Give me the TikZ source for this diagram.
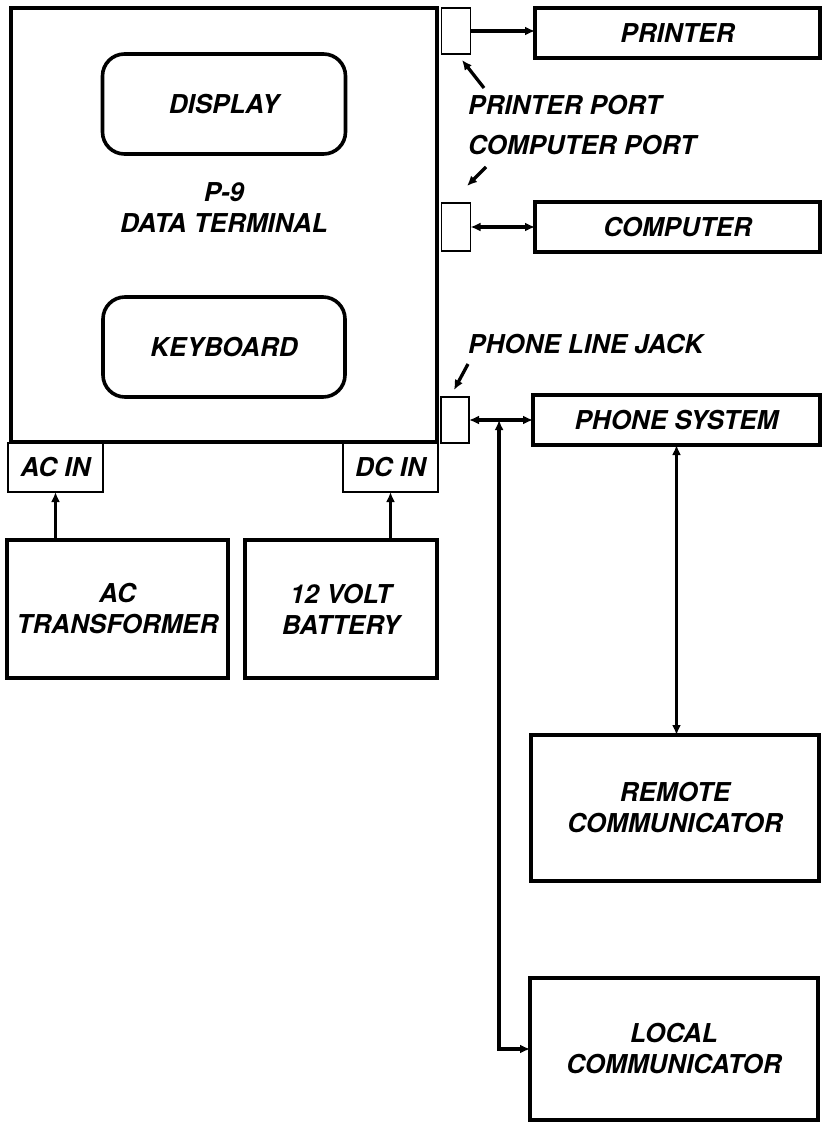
\documentclass[tikz,border=0pt]{standalone}
\usepackage{fontspec}
\setmainfont{TeX Gyre Heros}
\usetikzlibrary{arrows.meta,calc}
\tikzset{
  txt/.style={font=\fontsize{26}{31}\selectfont\bfseries\itshape, align=center},
  blk/.style={draw, line width=3.6pt, inner sep=0pt, outer sep=0pt, txt},
  rblk/.style={blk, rounded corners=22pt},
  port/.style={draw, line width=1.9pt, inner sep=0pt, outer sep=0pt},
  pin/.style={draw, line width=2.2pt, inner sep=0pt, outer sep=0pt, txt},
  conn/.style={line width=3.3pt},
  tip/.style={conn, -{Latex[length=10pt,width=9pt]}},
  dtip/.style={conn, {Latex[length=10pt,width=9pt]}-{Latex[length=10pt,width=9pt]}},
  lbl/.style={txt, anchor=west, inner sep=0pt}
}
\begin{document}
\begin{tikzpicture}[x=1pt,y=-1pt]
\useasboundingbox (0,0) rectangle (822,1123);
% main terminal
\node[blk, minimum width=426pt, minimum height=434pt] (term) at (224,225) {};
\node[rblk, minimum width=243pt, minimum height=100pt] (disp) at (224,104) {DISPLAY};
\node[rblk, minimum width=242pt, minimum height=100pt] (keyb) at (224,347) {KEYBOARD};
\node[txt] (tlabel) at (224,208) {P-9\\DATA TERMINAL};
% ports
\node[port, minimum width=29pt, minimum height=46pt] (pport) at (456,31) {};
\node[port, minimum width=29pt, minimum height=48pt] (cport) at (456,227) {};
\node[port, minimum width=28pt, minimum height=46pt] (jack) at (455,420) {};
% external devices
\node[blk, minimum width=285pt, minimum height=50pt] (printer) at (677.5,33) {PRINTER};
\node[blk, minimum width=285pt, minimum height=50pt] (computer) at (677.5,227) {COMPUTER};
\node[blk, minimum width=287pt, minimum height=50pt] (phone) at (676.5,420) {PHONE SYSTEM};
\node[blk, minimum width=288pt, minimum height=146pt] (remote) at (675,808) {REMOTE\\COMMUNICATOR};
\node[blk, minimum width=288pt, minimum height=142pt] (local) at (674,1049) {LOCAL\\COMMUNICATOR};
% power
\node[pin, minimum width=95pt, minimum height=49pt] (acin) at (55.5,467.5) {AC IN};
\node[pin, minimum width=95pt, minimum height=49pt] (dcin) at (390.5,467.5) {DC IN};
\node[blk, minimum width=221pt, minimum height=138pt] (trans) at (117.5,609) {AC\\TRANSFORMER};
\node[blk, minimum width=192pt, minimum height=138pt] (batt) at (341,609) {12 VOLT\\BATTERY};
% labels
\node[lbl] (lp) at (468,105) {PRINTER PORT};
\node[lbl] (lc) at (468,145) {COMPUTER PORT};
\node[lbl] (lj) at (468,344) {PHONE LINE JACK};
\coordinate (a1) at (484,88);   \coordinate (t1) at (462,60);
\coordinate (a2) at (486,167);  \coordinate (t2) at (467,186);
\coordinate (a3) at (468,364);  \coordinate (t3) at (454,390);
\draw[tip] (a1) -- (t1);
\draw[tip] (a2) -- (t2);
\draw[tip] (a3) -- (t3);
% connectors
\draw[tip] (pport.east) -- (pport.east -| printer.west);
\draw[dtip] (cport.east) -- (computer.west);
\draw[dtip] (jack.east) -- (phone.west);
\path (jack.east) -- (phone.west) coordinate[pos=0.47] (j);
\draw[dtip] (j) |- (local.west);
\draw[dtip] (phone.south) -- (phone.south |- remote.north);
\draw[tip] (acin.south |- trans.north) -- (acin.south);
\draw[tip] (dcin.south |- batt.north) -- (dcin.south);
\end{tikzpicture}
\end{document}
